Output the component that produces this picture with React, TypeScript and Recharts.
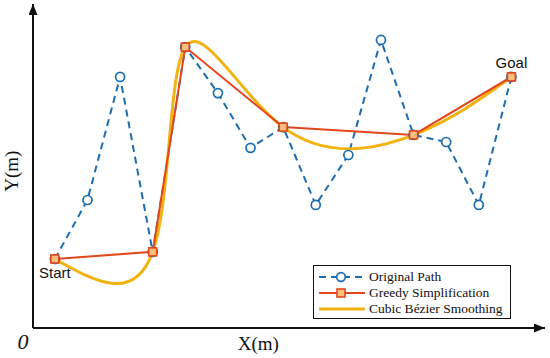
import React from 'react';
import { ComposedChart, Line, XAxis, YAxis, Legend, ReferenceDot, Label } from 'recharts';

// ---- data ----
const pathX = [1, 2, 3, 4, 5, 6, 7, 8, 9, 10, 11, 12, 13, 14, 15];
const originalY = [2.13, 3.95, 7.75, 2.35, 8.67, 7.25, 5.56, 6.2, 3.8, 5.34, 8.89, 5.96, 5.74, 3.8, 7.75];
const greedyX = [1, 4, 5, 8, 12, 15];
const greedyY = [2.13, 2.35, 8.67, 6.2, 5.96, 7.75];
const seriesNames = ['Original Path', 'Greedy Simplification', 'Cubic Bézier Smoothing'];
const startText = 'Start';
const goalText = 'Goal';
const xAxisTitle = 'X(m)';
const yAxisTitle = 'Y(m)';
const originText = '0';

const originalData = pathX.map((x, i) => ({ x, y: originalY[i] }));
const greedyData = greedyX.map((x, i) => ({ x, y: greedyY[i] }));

const BLUE = '#1b6cb1';
const RED = '#e4461c';
const YELLOW = '#f2b20f';
const SQ_FILL = '#f7c07a';
const SERIF = '"Liberation Serif", "Times New Roman", serif';
const SANS = '"Liberation Sans", Arial, sans-serif';

const CircleDot = (props: any) => {
  const { cx, cy } = props;
  if (cx == null || cy == null) return null;
  return <circle cx={cx} cy={cy} r={4.5} fill="#fff" stroke={BLUE} strokeWidth={1.7} />;
};

const SquareDot = (props: any) => {
  const { cx, cy } = props;
  if (cx == null || cy == null) return null;
  const s = 8;
  return <rect x={cx - s / 2} y={cy - s / 2} width={s} height={s} fill={SQ_FILL} stroke={RED} strokeWidth={1.6} />;
};

const LegendBox = () => {
  const row = (i: number) => {
    let sample: React.ReactNode;
    if (i === 0) {
      sample = (
        <>
          <line x1={3} y1={7} x2={49} y2={7} stroke={BLUE} strokeWidth={2} strokeDasharray="7 5" />
          <circle cx={25} cy={7} r={4.3} fill="#fff" stroke={BLUE} strokeWidth={1.7} />
        </>
      );
    } else if (i === 1) {
      sample = (
        <>
          <line x1={3} y1={7} x2={49} y2={7} stroke={RED} strokeWidth={2} />
          <rect x={21} y={3} width={8} height={8} fill={SQ_FILL} stroke={RED} strokeWidth={1.6} />
        </>
      );
    } else {
      sample = <line x1={3} y1={7} x2={49} y2={7} stroke={YELLOW} strokeWidth={3} />;
    }
    return (
      <div key={i} style={{ display: 'flex', alignItems: 'center', height: 16 }}>
        <svg width={52} height={14} style={{ display: 'block' }}>
          {sample}
        </svg>
        <span style={{ fontFamily: SERIF, fontSize: 13.5, color: '#111', marginLeft: 1, whiteSpace: 'nowrap', lineHeight: '16px' }}>
          {seriesNames[i]}
        </span>
      </div>
    );
  };
  return (
    <div
      style={{
        boxSizing: 'border-box',
        width: 198,
        height: 54,
        border: '1.5px solid #111',
        background: '#fff',
        paddingTop: 3,
        paddingLeft: 2,
      }}
    >
      {[0, 1, 2].map(row)}
    </div>
  );
};

export default function App() {
  return (
    <div style={{ position: 'absolute', left: 0, top: 0, width: 550, height: 358, background: '#fff' }}>
      <svg width={0} height={0} style={{ position: 'absolute' }}>
        <defs>
          <marker
            id="arrowHead"
            viewBox="0 0 11 9"
            refX={11}
            refY={4.5}
            markerWidth={11}
            markerHeight={9}
            markerUnits="userSpaceOnUse"
            orient="auto-start-reverse"
          >
            <path d="M0,0 L11,4.5 L0,9 Z" fill="#111" />
          </marker>
        </defs>
      </svg>
      <ComposedChart width={550} height={358} margin={{ top: 4, right: 5, bottom: 29, left: 32 }}>
        <XAxis
          type="number"
          dataKey="x"
          domain={[0.33, 16.03]}
          allowDataOverflow
          tick={false}
          tickLine={false}
          height={1}
          axisLine={{ stroke: '#111', strokeWidth: 2, markerEnd: 'url(#arrowHead)' } as any}
        >
          <Label
            content={(p: any) => {
              const vb = p.viewBox || {};
              return (
                <g>
                  <text x={vb.x + vb.width * 0.44} y={vb.y + 22} textAnchor="middle" fontFamily={SERIF} fontSize={19} fill="#111">
                    {xAxisTitle}
                  </text>
                  <text x={vb.x - 10} y={vb.y + 21} textAnchor="middle" fontFamily={SERIF} fontStyle="italic" fontSize={22} fill="#111">
                    {originText}
                  </text>
                </g>
              );
            }}
          />
        </XAxis>
        <YAxis
          type="number"
          domain={[0, 10]}
          allowDataOverflow
          tick={false}
          tickLine={false}
          width={1}
          axisLine={{ stroke: '#111', strokeWidth: 2, markerStart: 'url(#arrowHead)' } as any}
        >
          <Label
            content={(p: any) => {
              const vb = p.viewBox || {};
              const cx = vb.x + vb.width - 21;
              const cy = vb.y + vb.height * 0.516;
              return (
                <text
                  x={cx}
                  y={cy}
                  transform={`rotate(-90 ${cx} ${cy})`}
                  textAnchor="middle"
                  dominantBaseline="central"
                  fontFamily={SERIF}
                  fontSize={19}
                  fill="#111"
                >
                  {yAxisTitle}
                </text>
              );
            }}
          />
        </YAxis>
        <Line
          data={originalData}
          dataKey="y"
          name={seriesNames[0]}
          type="linear"
          stroke={BLUE}
          strokeWidth={2}
          strokeDasharray="7 5"
          dot={<CircleDot />}
          activeDot={false}
          isAnimationActive={false}
        />
        <Line
          data={greedyData}
          dataKey="y"
          name={seriesNames[2]}
          type="natural"
          stroke={YELLOW}
          strokeWidth={3}
          dot={false}
          activeDot={false}
          isAnimationActive={false}
        />
        <Line
          data={greedyData}
          dataKey="y"
          name={seriesNames[1]}
          type="linear"
          stroke={RED}
          strokeWidth={2}
          dot={<SquareDot />}
          activeDot={false}
          isAnimationActive={false}
        />
        <ReferenceDot
          x={greedyX[0]}
          y={greedyY[0]}
          r={0}
          stroke="none"
          label={{ value: startText, position: 'bottom', offset: 8, fill: '#111', fontSize: 15, fontFamily: SANS }}
        />
        <ReferenceDot
          x={greedyX[greedyX.length - 1]}
          y={greedyY[greedyY.length - 1]}
          r={0}
          stroke="none"
          label={{ value: goalText, position: 'top', offset: 9, fill: '#111', fontSize: 15, fontFamily: SANS }}
        />
        <Legend
          layout="horizontal"
          verticalAlign="middle"
          align="center"
          wrapperStyle={{ left: 313, top: 265, width: 198, height: 54 }}
          content={() => <LegendBox />}
        />
      </ComposedChart>
    </div>
  );
}
